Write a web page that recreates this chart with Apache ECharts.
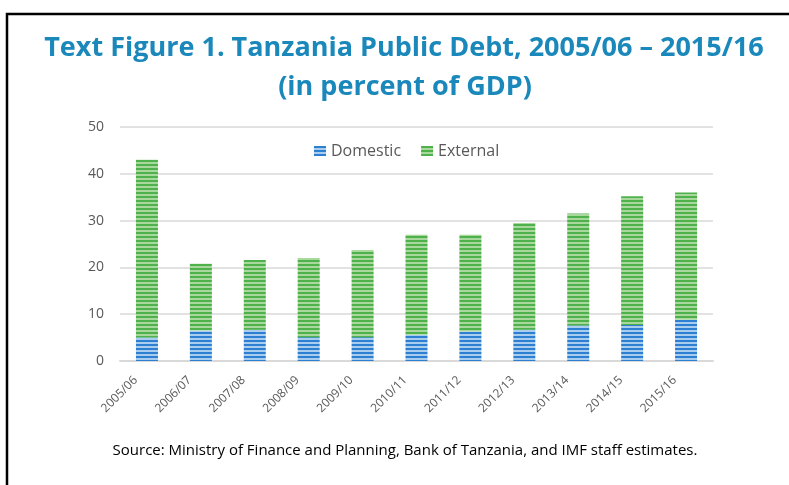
<!DOCTYPE html>
<html>
<head>
<meta charset="utf-8">
<script src="https://cdn.jsdelivr.net/npm/echarts@6/dist/echarts.min.js"></script>
<style>
html,body{margin:0;padding:0;background:#fff;}
#chart{width:789px;height:485px;}
</style>
</head>
<body>
<div id="chart"></div>
<script>
const categories = ['2005/06','2006/07','2007/08','2008/09','2009/10','2010/11','2011/12','2012/13','2013/14','2014/15','2015/16'];
const domestic = [5.0, 6.5, 6.7, 5.1, 5.1, 5.6, 6.3, 6.7, 7.6, 7.7, 8.8];
const external = [38.0, 14.3, 14.9, 16.9, 18.6, 21.4, 20.7, 22.8, 23.9, 27.5, 27.2];
const yTicks = [0, 10, 20, 30, 40, 50];
const titleLines = ['Text Figure 1. Tanzania Public Debt, 2005/06 \u2013 2015/16', '(in percent of GDP)'];
const sourceNote = 'Source: Ministry of Finance and Planning, Bank of Tanzania, and IMF staff estimates.';

function stripe(dark, light) {
  const c = document.createElement('canvas');
  c.width = 4; c.height = 4;
  const g = c.getContext('2d');
  g.fillStyle = light; g.fillRect(0, 0, 4, 4);
  g.fillStyle = dark; g.fillRect(0, 0, 4, 2);
  return { image: c, repeat: 'repeat' };
}
const bluePat = stripe('#2D7FD1', '#A9CDEF');
const greenPat = stripe('#4FB14B', '#A8D89C');

const titleFont = 'bold 27px "Open Sans"';

const chart = echarts.init(document.getElementById('chart'), null, {renderer: 'canvas'});
chart.setOption({
  backgroundColor: '#fff',
  animation: false,
  legend: {
    data: ['Domestic', 'External'],
    left: 309,
    top: 138,
    itemWidth: 12,
    itemHeight: 10,
    itemGap: 20,
    icon: 'rect',
    textStyle: { fontFamily: 'Open Sans', fontSize: 16, color: '#595959' }
  },
  grid: { left: 120, right: 76, top: 127, bottom: 124 },
  xAxis: {
    type: 'category',
    data: categories,
    axisLine: { lineStyle: { color: '#D9D9D9', width: 2 } },
    axisTick: { show: false },
    axisLabel: { rotate: 45, fontFamily: 'Open Sans', fontSize: 12, color: '#595959', margin: 6, padding: [0, 16, 0, 0], interval: 0 }
  },
  yAxis: {
    type: 'value',
    min: yTicks[0],
    max: yTicks[yTicks.length - 1],
    interval: 10,
    axisLine: { show: false },
    axisTick: { show: false },
    axisLabel: { fontFamily: 'Open Sans', fontSize: 14, color: '#595959', margin: 16 },
    splitLine: { lineStyle: { color: '#D9D9D9', width: 1.5 } }
  },
  series: [
    { name: 'Domestic', type: 'bar', stack: 'd', data: domestic, barWidth: 22, itemStyle: { color: bluePat } },
    { name: 'External', type: 'bar', stack: 'd', data: external, barWidth: 22, itemStyle: { color: greenPat } }
  ],
  graphic: [
    { type: 'rect', shape: { x: 7, y: 14, width: 800, height: 500 }, style: { fill: 'none', stroke: '#000', lineWidth: 2.5 }, silent: true },
    { type: 'text', x: 404, y: 48, style: { text: titleLines[0], font: titleFont, fill: '#1A88BA', textAlign: 'center', textVerticalAlign: 'middle' } },
    { type: 'text', x: 405, y: 87, style: { text: titleLines[1], font: titleFont, fill: '#1A88BA', textAlign: 'center', textVerticalAlign: 'middle' } },
    { type: 'text', x: 405, y: 451, style: { text: sourceNote, font: '15px "Open Sans"', fill: '#000', textAlign: 'center', textVerticalAlign: 'middle' } }
  ]
});
</script>
</body>
</html>
